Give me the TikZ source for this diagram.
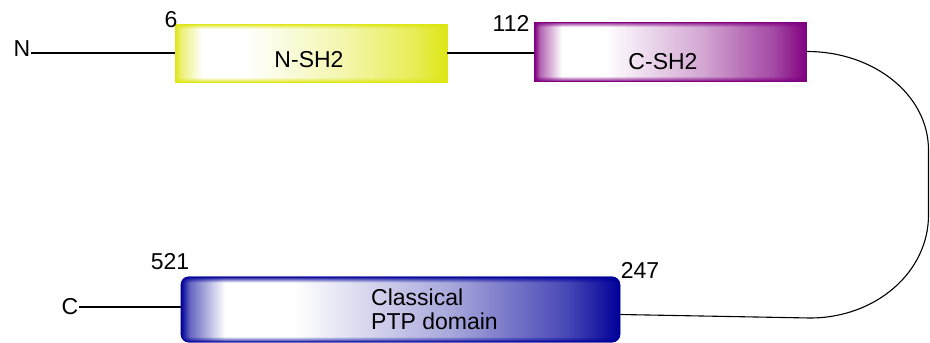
\documentclass[tikz,border=0pt]{standalone}
\usepackage{fontspec}
\setmainfont{Liberation Sans}
\usetikzlibrary{fadings}
\definecolor{ycol}{RGB}{222,230,20}
\definecolor{pcol}{RGB}{128,0,128}
\definecolor{bcol}{RGB}{0,0,153}
\newcommand{\mkdomshade}[2]{%
\pgfdeclarehorizontalshading{#1}{100bp}{color(0bp)=(#2); color(25bp)=(#2); color(26bp)=(#2!60); color(30bp)=(white); color(38bp)=(white); color(56bp)=(#2!35); color(69bp)=(#2!72); color(75bp)=(#2); color(100bp)=(#2)}}
\mkdomshade{yshade}{ycol}
\mkdomshade{pshade}{pcol}
\mkdomshade{bshade}{bcol}
\pgfdeclareverticalshading{bandsh}{100bp}{color(0bp)=(pgftransparent!0); color(25bp)=(pgftransparent!0); color(29.5bp)=(pgftransparent!100); color(70.5bp)=(pgftransparent!100); color(75bp)=(pgftransparent!0); color(100bp)=(pgftransparent!0)}
\pgfdeclarefading{bandfade}{\pgfuseshading{bandsh}}
\tikzset{
  lbl/.style={font=\fontsize{23}{27}\selectfont, inner sep=0pt},
  dombox/.style={shade, minimum width=272pt, minimum height=58pt, inner sep=0pt, line width=0.8pt},
  conn/.style={line width=1.8pt},
  loopline/.style={line width=1.1pt},
}
\begin{document}
\begin{tikzpicture}[x=1pt,y=-1pt]
\useasboundingbox (0,0) rectangle (930,343);
% domains
\node[dombox, shading=yshade, draw=ycol] (nsh) at (311,53) {};
\fill[ycol, path fading=bandfade] (nsh.south west) rectangle (nsh.north east);
\node[dombox, shading=pshade, draw=pcol, minimum height=59pt] (csh) at (670.6,51.5) {};
\fill[pcol, path fading=bandfade] (csh.south west) rectangle (csh.north east);
\node[dombox, shading=bshade, draw=bcol, minimum width=439pt, minimum height=65pt, rounded corners=8pt] (ptp) at (400.5,309.5) {};
\fill[bcol, path fading=bandfade, rounded corners=8pt] (ptp.south west) rectangle (ptp.north east);
% texts
\node[lbl] (nsht) at (309,60) {N-SH2};
\node[lbl] (csht) at (663,62) {C-SH2};
\node[lbl, anchor=west, align=left, font=\fontsize{23}{24}\selectfont] (ptpt) at (371,309) {Classical\\PTP domain};
\node[lbl] (nterm) at (22,49) {N};
\node[lbl] (cterm) at (70,307) {C};
\node[lbl] (n6) at (171,20) {6};
\node[lbl] (n112) at (511,23) {112};
\node[lbl] (n521) at (170,262) {521};
\node[lbl] (n247) at (640,270) {247};
% connectors
\draw[conn] (nterm.east |- nsh.west) -- (nsh.west);
\draw[conn] (nsh.east) -- (nsh.east -| csh.west);
\draw[conn] (cterm.east) -- (cterm.east -| ptp.west);
\coordinate (ttop) at (928.5,150);
\coordinate (tbot) at (928.5,215);
\coordinate (lend) at (810,318);
\coordinate (pin) at ([yshift=-5pt]ptp.east);
\draw[loopline] (csh.east) .. controls (874,51.5) and (928.5,95) .. (ttop) -- (tbot) .. controls (928.5,272) and (876,318) .. (lend) -- (pin);
\end{tikzpicture}
\end{document}
